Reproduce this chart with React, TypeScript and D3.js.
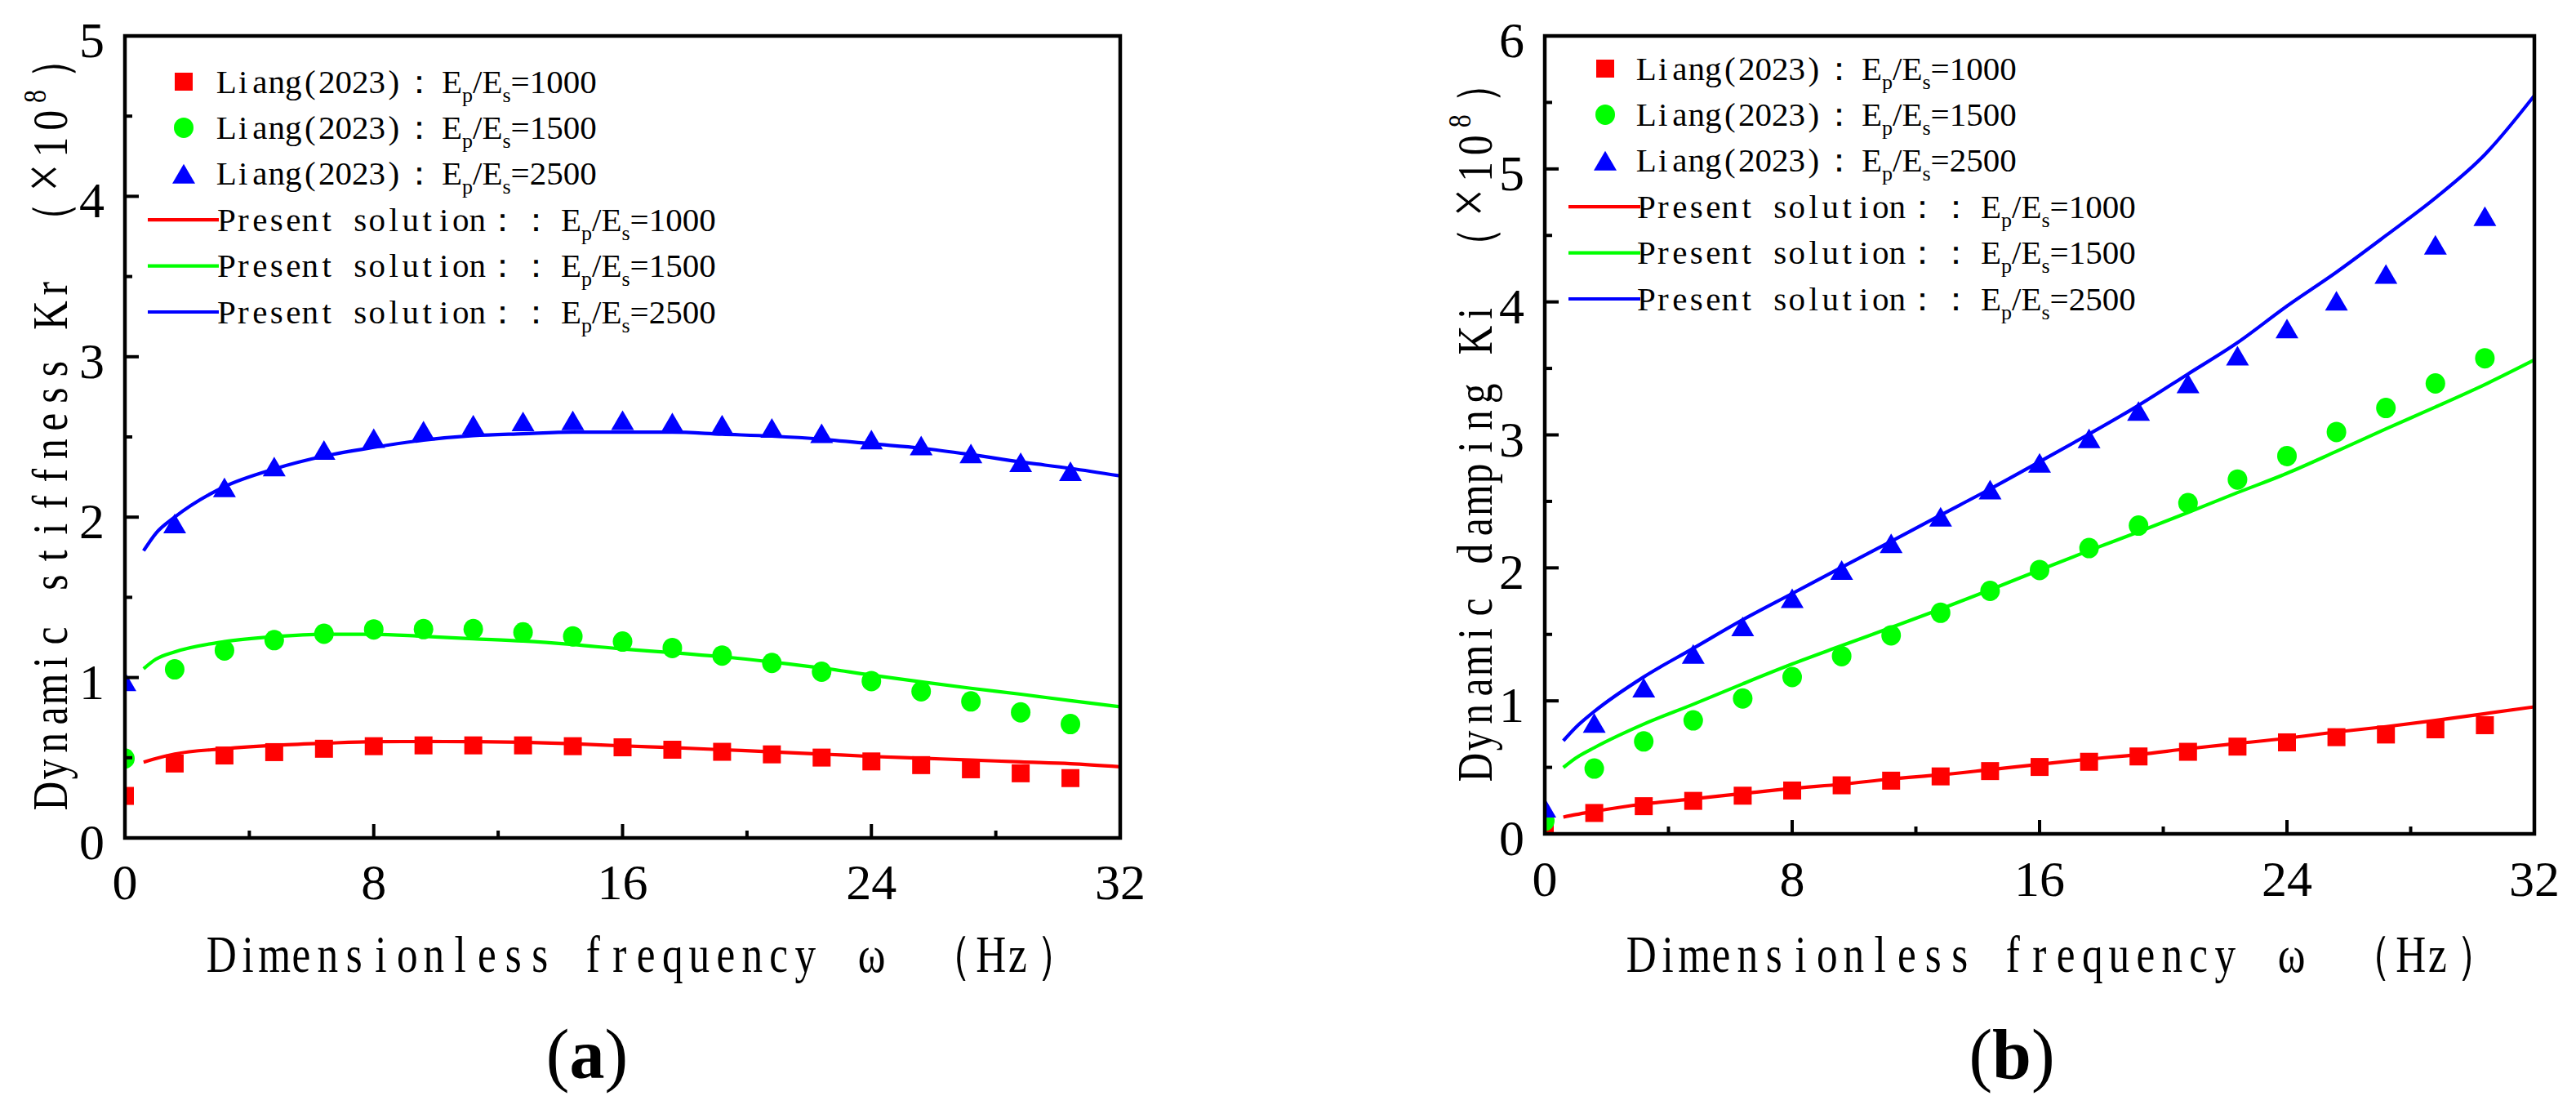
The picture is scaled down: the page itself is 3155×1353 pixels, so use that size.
import * as d3 from 'd3';

const W = 3155;
const H = 1353;

// frequencies of the Liang (2023) points and of the present-solution curves
const FREQ_PTS = [0, 1.6, 3.2, 4.8, 6.4, 8, 9.6, 11.2, 12.8, 14.4, 16, 17.6, 19.2, 20.8, 22.4, 24, 25.6, 27.2, 28.8, 30.4];
const FREQ_LINE = [0.6, 1.0, 1.6, 3.2, 4.8, 6.4, 8, 9.6, 11.2, 12.8, 14.4, 16, 17.6, 19.2, 20.8, 22.4, 24, 25.6, 27.2, 28.8, 30.4, 32];

const RATIOS = ['1000', '1500', '2500'];
const COLORS = ['#ff0000', '#00ff00', '#0000ff'];
const MARKERS = ['square', 'circle', 'triangle'];

const X_TICKS = [0, 8, 16, 24, 32];
const X_MINOR = [4, 12, 20, 28];
const Y_TICKS_A = [0, 1, 2, 3, 4, 5];
const Y_MINOR_A = [0.5, 1.5, 2.5, 3.5, 4.5];
const Y_TICKS_B = [0, 1, 2, 3, 4, 5, 6];
const Y_MINOR_B = [0.5, 1.5, 2.5, 3.5, 4.5, 5.5];

// (a) dynamic stiffness Kr (x1e8)
const krLiang1000 = [0.262, 0.464, 0.514, 0.535, 0.556, 0.572, 0.577, 0.577, 0.577, 0.572, 0.565, 0.55, 0.537, 0.521, 0.501, 0.477, 0.454, 0.428, 0.403, 0.373];
const krLiang1500 = [0.495, 1.051, 1.169, 1.233, 1.273, 1.3, 1.302, 1.302, 1.282, 1.257, 1.224, 1.184, 1.137, 1.091, 1.036, 0.978, 0.914, 0.851, 0.783, 0.71];
const krLiang2500 = [0.976, 1.96, 2.186, 2.315, 2.419, 2.492, 2.54, 2.577, 2.597, 2.603, 2.605, 2.59, 2.577, 2.556, 2.523, 2.483, 2.446, 2.397, 2.342, 2.286];
const krPresent1000 = [0.472, 0.495, 0.523, 0.556, 0.577, 0.59, 0.6, 0.601, 0.6, 0.596, 0.587, 0.574, 0.563, 0.55, 0.537, 0.523, 0.508, 0.497, 0.486, 0.474, 0.463, 0.444];
const krPresent1500 = [1.055, 1.115, 1.16, 1.224, 1.255, 1.27, 1.27, 1.257, 1.242, 1.228, 1.206, 1.178, 1.155, 1.129, 1.097, 1.06, 1.015, 0.973, 0.933, 0.896, 0.856, 0.818];
const krPresent2500 = [1.79, 1.9, 2.0, 2.19, 2.3, 2.38, 2.435, 2.48, 2.508, 2.52, 2.53, 2.53, 2.53, 2.517, 2.505, 2.486, 2.457, 2.43, 2.39, 2.344, 2.304, 2.257];

// (b) dynamic damping Ki (x1e8)
const kiLiang1000 = [0.04, 0.157, 0.208, 0.248, 0.287, 0.326, 0.365, 0.4, 0.432, 0.472, 0.503, 0.542, 0.582, 0.617, 0.656, 0.688, 0.727, 0.747, 0.786, 0.817];
const kiLiang1500 = [0.098, 0.491, 0.695, 0.853, 1.018, 1.179, 1.336, 1.493, 1.662, 1.827, 1.984, 2.149, 2.318, 2.487, 2.664, 2.841, 3.022, 3.202, 3.387, 3.576];
const kiLiang2500 = [0.196, 0.833, 1.1, 1.352, 1.56, 1.772, 1.984, 2.185, 2.385, 2.589, 2.79, 2.974, 3.18, 3.387, 3.595, 3.8, 4.008, 4.21, 4.43, 4.645];
const kiPresent1000 = [0.126, 0.145, 0.169, 0.224, 0.263, 0.303, 0.342, 0.373, 0.413, 0.444, 0.483, 0.523, 0.562, 0.597, 0.64, 0.68, 0.719, 0.766, 0.806, 0.853, 0.904, 0.955];
const kiPresent1500 = [0.499, 0.57, 0.648, 0.825, 0.974, 1.128, 1.277, 1.415, 1.552, 1.69, 1.835, 1.984, 2.13, 2.271, 2.417, 2.566, 2.711, 2.876, 3.045, 3.21, 3.379, 3.564];
const kiPresent2500 = [0.7, 0.8, 0.92, 1.18, 1.395, 1.61, 1.807, 2.004, 2.2, 2.397, 2.593, 2.798, 3.006, 3.222, 3.458, 3.694, 3.969, 4.224, 4.499, 4.782, 5.108, 5.552];

const SERIF = '"Liberation Serif", serif';
const SX = 0.8; // horizontal squeeze for the fixed-pitch looking titles

// cell widths for the fixed-pitch looking text
const cellW = (ch: string) => (/[\u3000-\u303f\uff00-\uffef]/.test(ch) ? 2 : ch === '×' ? 1.3 : ch === 'ω' ? 2 : 1);
function layout(str: string, cell: number, start = 0) {
  let c = start;
  const xs = Array.from(str).map((ch) => {
    const w = cellW(ch) * cell;
    const m = c + w / 2;
    c += w;
    return m;
  });
  return { xs, end: c };
}
const xsAttr = (xs: number[], k = 1) => xs.map((v) => (v / k).toFixed(1)).join(' ');

type PanelProps = {
  left: number; right: number; top: number; bottom: number;
  yMax: number; yTicks: number[]; yMinor: number[];
  liang: number[][]; present: number[][];
  yTitle: string; yTitleX: number; yTitleStart: number;
  legendTop: number; legendMarkerDx: number; legendLine: [number, number];
  xTickBase: number; label: string; labelX: number; id: string;
};

function Marker({ kind, x, y, color }: { kind: string; x: number; y: number; color: string }) {
  if (kind === 'square') return <rect x={x - 11} y={y - 11} width={22} height={22} fill={color} />;
  if (kind === 'circle') return <ellipse cx={x} cy={y} rx={12} ry={12.5} fill={color} />;
  return <path d={`M${x},${y - 12}L${x + 14},${y + 12}L${x - 14},${y + 12}Z`} fill={color} />;
}

function Panel(p: PanelProps) {
  const x = d3.scaleLinear().domain([0, 32]).range([p.left, p.right]);
  const y = d3.scaleLinear().domain([0, p.yMax]).range([p.bottom, p.top]);
  const line = d3.line<number>().x((_, i) => x(FREQ_LINE[i])).y((d) => y(d)).curve(d3.curveMonotoneX);

  // y title: "<name> （×10" on fixed pitch, then the superscript and the closing bracket
  const cellY = 32.7;
  const head = `${p.yTitle} （`;
  const lt = layout(`${head}×10`, cellY);
  const nHead = Array.from(head).length;
  const supX = lt.end + 0.4 * cellY;
  const closeX = lt.end + 0.8 * cellY + cellY;

  const xTitle = 'Dimensionless frequency ω （Hz）';
  const xt = layout(xTitle, 32.5);

  const legendText = p.left + 114;
  const rowStep = 56.4;

  return (
    <g>
      <defs>
        <clipPath id={p.id}>
          <rect x={p.left} y={p.top} width={p.right - p.left} height={p.bottom - p.top} />
        </clipPath>
      </defs>

      <g clipPath={`url(#${p.id})`}>
        {p.liang.map((vals, s) =>
          vals.map((v, i) => <Marker key={`${s}-${i}`} kind={MARKERS[s]} x={x(FREQ_PTS[i])} y={y(v)} color={COLORS[s]} />)
        )}
        {p.present.map((vals, s) => (
          <path key={s} d={line(vals) || ''} fill="none" stroke={COLORS[s]} strokeWidth={4.2} strokeLinejoin="round" />
        ))}
      </g>

      {/* ticks */}
      {X_TICKS.map((t) => (
        <line key={`xt${t}`} x1={x(t)} x2={x(t)} y1={p.bottom} y2={p.bottom - 17} stroke="#000" strokeWidth={4} />
      ))}
      {X_MINOR.map((t) => (
        <line key={`xm${t}`} x1={x(t)} x2={x(t)} y1={p.bottom} y2={p.bottom - 9} stroke="#000" strokeWidth={4} />
      ))}
      {p.yTicks.map((t) => (
        <line key={`yt${t}`} x1={p.left} x2={p.left + 17} y1={y(t)} y2={y(t)} stroke="#000" strokeWidth={4} />
      ))}
      {p.yMinor.map((t) => (
        <line key={`ym${t}`} x1={p.left} x2={p.left + 9} y1={y(t)} y2={y(t)} stroke="#000" strokeWidth={4} />
      ))}
      <rect x={p.left} y={p.top} width={p.right - p.left} height={p.bottom - p.top} fill="none" stroke="#000" strokeWidth={4.5} />

      {/* tick labels */}
      {X_TICKS.map((t) => (
        <text key={`xl${t}`} x={x(t)} y={p.xTickBase} textAnchor="middle" fontFamily={SERIF} fontSize={62}>{t}</text>
      ))}
      {p.yTicks.map((t) => (
        <text key={`yl${t}`} x={p.left - 25} y={y(t) + 26} textAnchor="end" fontFamily={SERIF} fontSize={62}>{t}</text>
      ))}

      {/* axis titles */}
      <text
        transform={`translate(${p.left + 102},1190) scale(${SX},1)`}
        textAnchor="middle" fontFamily={SERIF} fontSize={64} style={{ whiteSpace: 'pre' }}
        x={xsAttr(xt.xs, SX)} y={0}
      >{xTitle}</text>
      <text
        transform={`translate(${p.yTitleX},${p.yTitleStart}) rotate(-90) scale(${SX},1)`}
        textAnchor="middle" fontFamily={SERIF} fontSize={62} style={{ whiteSpace: 'pre' }}
      >
        <tspan x={xsAttr(lt.xs.slice(0, nHead), SX)} y={0}>{head}</tspan>
        <tspan x={xsAttr([lt.xs[nHead]], SX)} y={-3} fontSize={76}>×</tspan>
        <tspan x={xsAttr(lt.xs.slice(nHead + 1), SX)} y={0}>10</tspan>
        <tspan x={(supX / SX).toFixed(1)} y={-26} fontSize={40}>8</tspan>
        <tspan x={(closeX / SX).toFixed(1)} y={0}>）</tspan>
      </text>

      {/* legend */}
      {RATIOS.map((r, s) => {
        const cy = p.legendTop + s * rowStep;
        const lab = layout('Liang(2023)：', 20.5, legendText);
        return (
          <g key={`lg${s}`}>
            <Marker kind={MARKERS[s]} x={p.left + p.legendMarkerDx} y={cy} color={COLORS[s]} />
            <text y={cy + 13.5} fontFamily={SERIF} fontSize={41} style={{ whiteSpace: 'pre' }}>
              <tspan textAnchor="middle" x={xsAttr(lab.xs)}>{'Liang(2023)：'}</tspan>
              <tspan textAnchor="start" x={legendText + 274}>E</tspan>
              <tspan dy={11} fontSize={26}>p</tspan>
              <tspan dy={-11}>/E</tspan>
              <tspan dy={11} fontSize={26}>s</tspan>
              <tspan dy={-11}>={r}</tspan>
            </text>
          </g>
        );
      })}
      {RATIOS.map((r, s) => {
        const cy = p.legendTop + (s + 3) * rowStep;
        const lab = layout('Present solution：：', 20.5, legendText);
        return (
          <g key={`lp${s}`}>
            <line x1={p.left + p.legendLine[0]} x2={p.left + p.legendLine[1]} y1={cy} y2={cy} stroke={COLORS[s]} strokeWidth={4.2} />
            <text y={cy + 13.5} fontFamily={SERIF} fontSize={41} style={{ whiteSpace: 'pre' }}>
              <tspan textAnchor="middle" x={xsAttr(lab.xs)}>{'Present solution：：'}</tspan>
              <tspan textAnchor="start" x={legendText + 420}>E</tspan>
              <tspan dy={11} fontSize={26}>p</tspan>
              <tspan dy={-11}>/E</tspan>
              <tspan dy={11} fontSize={26}>s</tspan>
              <tspan dy={-11}>={r}</tspan>
            </text>
          </g>
        );
      })}

      {/* panel label */}
      <text x={p.labelX} y={1320} textAnchor="middle" fontFamily={SERIF} fontSize={86}>
        (<tspan fontWeight="bold">{p.label}</tspan>)
      </text>
    </g>
  );
}

export default function App() {
  return (
    <svg width={W} height={H} viewBox={`0 0 ${W} ${H}`} style={{ position: 'absolute', left: 0, top: 0, background: '#fff' }}>
      <rect width={W} height={H} fill="#fff" />
      <Panel
        id="clipA" left={153} right={1372} top={44} bottom={1026}
        yMax={5} yTicks={Y_TICKS_A} yMinor={Y_MINOR_A}
        liang={[krLiang1000, krLiang1500, krLiang2500]}
        present={[krPresent1000, krPresent1500, krPresent2500]}
        yTitle="Dynamic stiffness Kr" yTitleX={82} yTitleStart={991}
        legendTop={100} legendMarkerDx={72} legendLine={[28, 115]}
        xTickBase={1101} label="a" labelX={719}
      />
      <Panel
        id="clipB" left={1892} right={3104} top={44} bottom={1021}
        yMax={6} yTicks={Y_TICKS_B} yMinor={Y_MINOR_B}
        liang={[kiLiang1000, kiLiang1500, kiLiang2500]}
        present={[kiPresent1000, kiPresent1500, kiPresent2500]}
        yTitle="Dynamic damping Ki" yTitleX={1827} yTitleStart={956}
        legendTop={84} legendMarkerDx={74} legendLine={[29, 117]}
        xTickBase={1097} label="b" labelX={2464}
      />
    </svg>
  );
}
